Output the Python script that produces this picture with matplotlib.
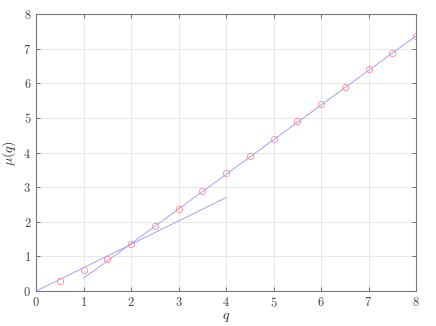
import numpy as np
import matplotlib
matplotlib.use('Agg')
import matplotlib.pyplot as plt

# data
q = [0.5, 1.0, 1.5, 2.0, 2.5, 3.0, 3.5, 4.0, 4.5, 5.0, 5.5, 6.0, 6.5, 7.0, 7.5, 8.0]
mu = [0.30, 0.60, 0.93, 1.35, 1.87, 2.38, 2.90, 3.40, 3.90, 4.40, 4.90, 5.40, 5.90, 6.40, 6.88, 7.37]

# fitted lines (endpoints)
fit1_q = [0.0, 4.0]
fit1_mu = [0.0, 2.70]
fit2_q = [1.0, 8.0]
fit2_mu = [0.37, 7.37]

plt.rcParams['font.family'] = 'cmr10'
plt.rcParams['mathtext.fontset'] = 'cm'
plt.rcParams['axes.formatter.use_mathtext'] = True

fig = plt.figure(figsize=(4.36, 3.26), dpi=100)
ax = fig.add_axes([0.0826, 0.107, 0.8716, 0.850])

ax.plot(fit1_q, fit1_mu, color='#a0a0ff', lw=0.7)
ax.plot(fit2_q, fit2_mu, color='#a0a0ff', lw=0.7)
ax.plot(q, mu, 'o', mfc='none', mec='#ff8c8c', ms=4.5, mew=0.6)

ax.set_xlim(0, 8)
ax.set_ylim(0, 8)
ax.set_xticks(range(9))
ax.set_yticks(range(9))
ax.grid(True, color='#e4e4e4', lw=0.6)
ax.set_axisbelow(True)
ax.tick_params(direction='in', top=True, right=True, length=3, width=0.6,
               colors='#555555', labelsize=9, labelcolor='#444444')
for s in ax.spines.values():
    s.set_color('#777777')
    s.set_linewidth(0.8)

ax.set_xlabel(r'$q$', fontsize=10, color='#333333', labelpad=1)
ax.set_ylabel(r'$\mu(q)$', fontsize=10, color='#333333')

fig.savefig('out.png', dpi=100)
